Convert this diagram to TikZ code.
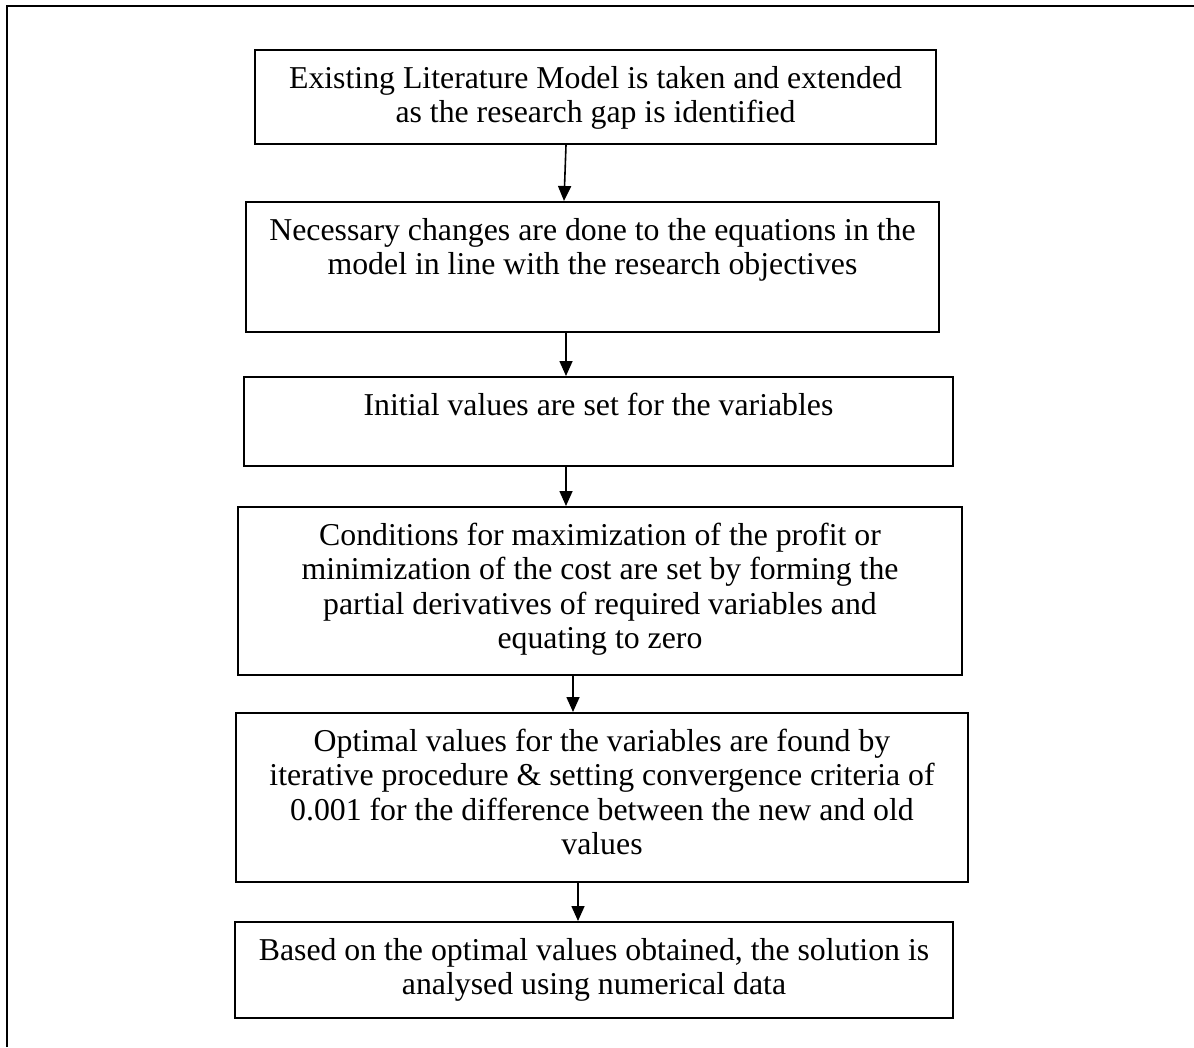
\documentclass[tikz,border=0pt]{standalone}
\usepackage{fontspec}
\setmainfont{Liberation Serif}
\usetikzlibrary{arrows.meta}
\begin{document}
\begin{tikzpicture}[x=1pt,y=-1pt,
  stepbox/.style={draw=black,line width=2pt,inner sep=0pt,fill=none},
  txt/.style={anchor=north,inner sep=0pt,align=center,font=\fontsize{31.8pt}{34.5pt}\selectfont},
  arr/.style={draw=black,line width=1.6pt,-{Triangle[length=15pt,width=13pt]}},
  frame/.style={draw=black,line width=2.6pt}]
\useasboundingbox (0,0) rectangle (1194,1047);
% outer frame (left and top edges)
\coordinate (fa) at (7,1047);
\coordinate (fb) at (7,6);
\coordinate (fc) at (1194,6);
\draw[frame] (fa) -- (fb) -- (fc);
% boxes
\node[stepbox,minimum width=681pt,minimum height=94pt] (b1) at (595.5,97) {};
\node[stepbox,minimum width=693pt,minimum height=130pt] (b2) at (592.5,267) {};
\node[stepbox,minimum width=709pt,minimum height=89pt] (b3) at (598.5,421.5) {};
\node[stepbox,minimum width=724pt,minimum height=168pt] (b4) at (600,591) {};
\node[stepbox,minimum width=732pt,minimum height=169pt] (b5) at (602,797.5) {};
\node[stepbox,minimum width=718pt,minimum height=96pt] (b6) at (594,970) {};
% texts
\node[txt] (t1) at ([yshift=-15pt]b1.north) {\strut Existing Literature Model is taken and extended\\as the research gap is identified};
\node[txt] (t2) at ([yshift=-15pt]b2.north) {\strut Necessary changes are done to the equations in the\\model in line with the research objectives};
\node[txt] (t3) at ([yshift=-15pt]b3.north) {\strut Initial values are set for the variables};
\node[txt] (t4) at ([yshift=-15pt]b4.north) {\strut Conditions for maximization of the profit or\\minimization of the cost are set by forming the\\partial derivatives of required variables and\\equating to zero};
\node[txt] (t5) at ([yshift=-15pt]b5.north) {\strut Optimal values for the variables are found by\\iterative procedure \& setting convergence criteria of\\0.001 for the difference between the new and old\\values};
\node[txt] (t6) at ([yshift=-15pt]b6.north) {\strut Based on the optimal values obtained, the solution is\\analysed using numerical data};
% arrows
\draw[arr] (b1.south -| 566,0) -- (b2.north -| 564,0);
\draw[arr] (b2.south -| 566,0) -- (b3.north -| 566,0);
\draw[arr] (b3.south -| 566,0) -- (b4.north -| 566,0);
\draw[arr] (b4.south -| 573,0) -- (b5.north -| 573,0);
\draw[arr] (b5.south -| 578,0) -- (b6.north -| 578,0);
\end{tikzpicture}
\end{document}
